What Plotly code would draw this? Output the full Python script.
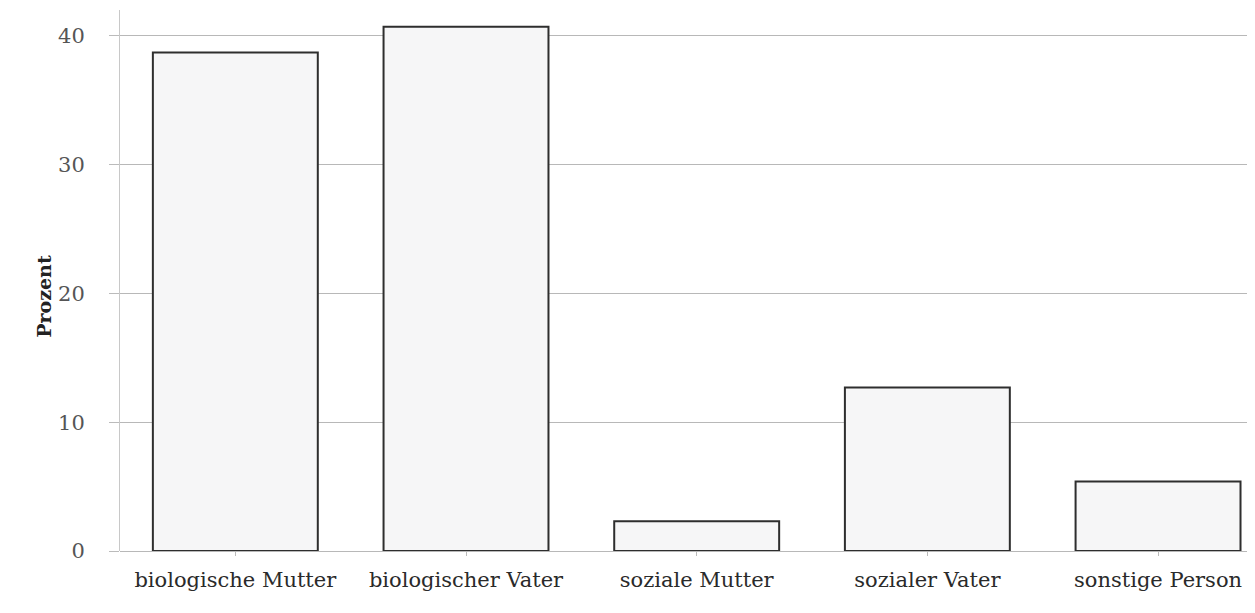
import plotly.graph_objects as go

categories = ["biologische Mutter", "biologischer Vater", "soziale Mutter", "sozialer Vater", "sonstige Person"]
values = [38.7, 40.7, 2.3, 12.7, 5.4]
y_ticks = [0, 10, 20, 30, 40]
y_title = "Prozent"

fig = go.Figure()
fig.add_trace(go.Bar(
    x=list(range(len(categories))),
    y=values,
    width=0.715,
    marker=dict(color="#f6f6f7", line=dict(color="#2e2e2e", width=2)),
))

fig.update_layout(
    width=1255, height=613,
    margin=dict(l=112, r=0, t=2, b=70),
    paper_bgcolor="white", plot_bgcolor="white",
    showlegend=False,
    font=dict(family="DejaVu Serif, Liberation Serif, serif", color="#333"),
)
fig.update_xaxes(
    range=[-0.5, 4.455],
    tickmode="array", tickvals=list(range(len(categories))), ticktext=categories,
    ticks="outside", ticklen=4, tickcolor="#bbb",
    ticklabelstandoff=6,
    tickfont=dict(size=21, color="#2a2a2a"),
    showgrid=False, showline=False, zeroline=False,
)
fig.update_yaxes(
    range=[0, 42],
    tickmode="array", tickvals=y_ticks,
    ticks="outside", ticklen=10, tickcolor="#bbb",
    ticklabelstandoff=20,
    tickfont=dict(size=21, color="#555"),
    showgrid=True, gridcolor="#b8b8b8", gridwidth=1,
    showline=True, linecolor="#c8c8c8", linewidth=1,
    zeroline=True, zerolinecolor="#b8b8b8", zerolinewidth=1,
)
fig.add_annotation(
    text="<b>" + y_title + "</b>", textangle=-90,
    xref="paper", yref="paper", x=0, y=0.47,
    xanchor="center", yanchor="middle", xshift=-76,
    showarrow=False, font=dict(size=19, color="#222"),
)

fig.write_html("out.html")
